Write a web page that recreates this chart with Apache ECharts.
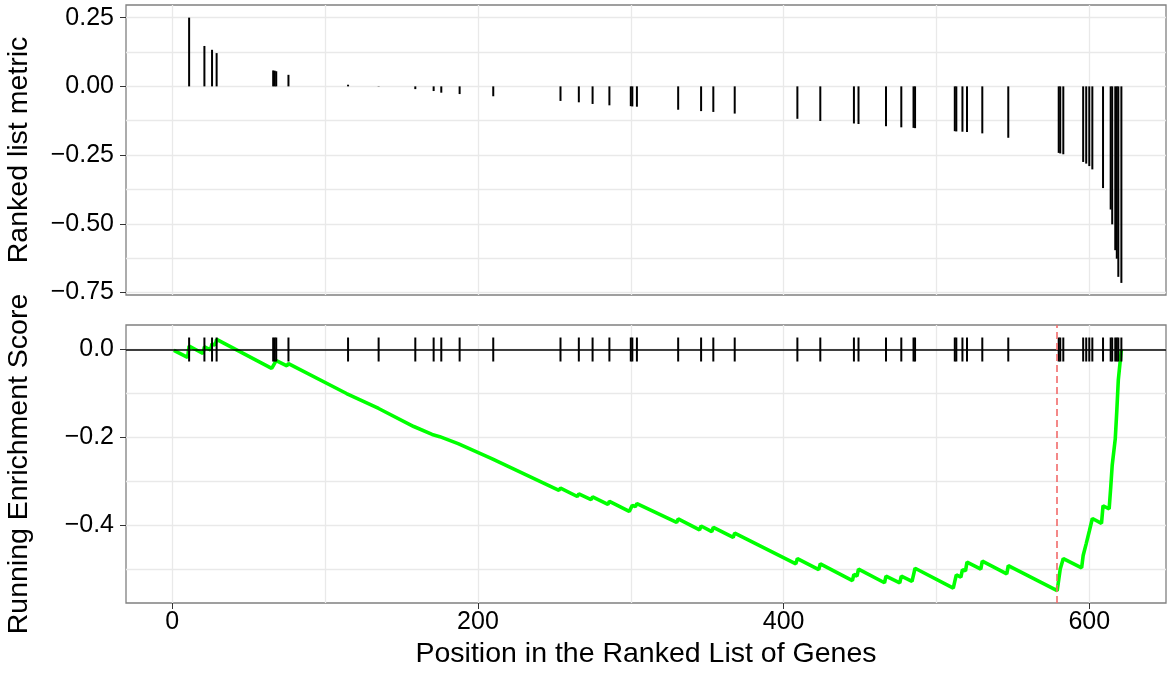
<!DOCTYPE html>
<html>
<head>
<meta charset="utf-8">
<script src="https://cdn.jsdelivr.net/npm/echarts@6/dist/echarts.min.js"></script>
<style>
  html, body { margin: 0; padding: 0; background: #fff; }
  #chart { width: 1167px; height: 674px; }
</style>
</head>
<body>
<div id="chart"></div>
<script>
// genes of the set: position in the ranked list and their metric
var hitPos = [11, 21, 26, 29, 66, 67, 68, 76, 115, 135, 159, 171, 176, 188, 210,
  254, 266, 275, 286, 300, 301, 304, 331, 346, 354, 368, 409, 424, 446, 449,
  467, 477, 485, 486, 512, 513, 517, 520, 530, 547, 580, 581, 583, 596, 598,
  600, 602, 609, 614, 615, 617, 618, 619, 621];
var hitMetric = [0.250, 0.147, 0.133, 0.121, 0.058, 0.057, 0.055, 0.042, 0.006, 0.001,
  -0.010, -0.017, -0.023, -0.028, -0.036, -0.053, -0.058, -0.064, -0.069, -0.072,
  -0.073, -0.074, -0.085, -0.090, -0.093, -0.099, -0.118, -0.126, -0.135, -0.137,
  -0.145, -0.149, -0.151, -0.152, -0.163, -0.164, -0.165, -0.166, -0.171, -0.187,
  -0.242, -0.244, -0.247, -0.275, -0.281, -0.290, -0.302, -0.370, -0.448, -0.502,
  -0.596, -0.627, -0.693, -0.715];

// running enrichment score, corners of the curve
var esPos = [1, 10, 11, 20, 21, 25, 26, 28, 29, 65, 66, 67, 68, 75, 76, 114, 115, 135,
  158, 159, 170, 171, 175, 176, 187, 188, 209, 210, 253, 254, 265, 266, 274, 275,
  285, 286, 299, 300, 301, 303, 304, 330, 331, 345, 346, 353, 354, 367, 368, 408,
  409, 423, 424, 445, 446, 448, 449, 466, 467, 476, 477, 484, 485, 486, 511, 512,
  513, 516, 517, 519, 520, 529, 530, 546, 547, 579, 580, 581, 582, 583, 595, 596,
  597, 598, 599, 600, 601, 602, 608, 609, 613, 614, 615, 616, 617, 618, 619, 620, 621];
var esScore = [-0.002, -0.018, 0.008, -0.009, 0.006, -0.001, 0.013, 0.010, 0.023, -0.043,
  -0.037, -0.031, -0.025, -0.037, -0.032, -0.100, -0.099, -0.134, -0.175, -0.174,
  -0.193, -0.191, -0.198, -0.196, -0.214, -0.211, -0.248, -0.244, -0.320, -0.315,
  -0.334, -0.328, -0.341, -0.335, -0.352, -0.345, -0.368, -0.361, -0.354, -0.357,
  -0.350, -0.393, -0.385, -0.410, -0.401, -0.414, -0.404, -0.427, -0.417, -0.487,
  -0.475, -0.500, -0.487, -0.525, -0.511, -0.515, -0.499, -0.530, -0.515, -0.530,
  -0.515, -0.527, -0.512, -0.497, -0.542, -0.527, -0.512, -0.517, -0.500, -0.503,
  -0.483, -0.499, -0.481, -0.510, -0.491, -0.548, -0.523, -0.499, -0.501, -0.475,
  -0.496, -0.468, -0.470, -0.441, -0.443, -0.413, -0.415, -0.384, -0.395, -0.355,
  -0.362, -0.315, -0.263, -0.265, -0.203, -0.140, -0.069, -0.071, 0.000];

var xTicks = [0, 200, 400, 600];
var xGrid = [0, 100, 200, 300, 400, 500, 600];
var metricTicks = [0.25, 0, -0.25, -0.5, -0.75];
var metricGrid = [0.25, 0.125, 0, -0.125, -0.25, -0.375, -0.5, -0.625, -0.75];
var esTicks = [0, -0.2, -0.4];
var esGrid = [0, -0.1, -0.2, -0.3, -0.4, -0.5];

var FONT = '"Liberation Sans", Arial, Helvetica, sans-serif';
var XMIN = -30.3, XMAX = 650.2;
var GRID_LINE = { show: true, lineStyle: { color: '#e9e9e9', width: 1.3 } };

// the red line goes where the score is lowest
var peak = 0;
esScore.forEach(function (v, i) { if (v < esScore[peak]) peak = i; });

function signed(digits) {
  return function (v) {
    return (v < 0 ? '\u2212' : '') + Math.abs(v).toFixed(digits);
  };
}

// one axis only draws the grid lines, a second one the ticks and labels
function linesAxis(gridIndex, position, min, max, values) {
  return {
    type: 'value', gridIndex: gridIndex, position: position, min: min, max: max,
    axisLine: { show: false, onZero: false },
    axisTick: { show: false, customValues: values },
    axisLabel: { show: false },
    splitLine: GRID_LINE
  };
}
function labelAxis(gridIndex, position, min, max, values, digits, margin) {
  return {
    type: 'value', gridIndex: gridIndex, position: position, min: min, max: max,
    axisLine: { show: false, onZero: false },
    axisTick: { show: true, length: 6, customValues: values, lineStyle: { color: '#333', width: 1 } },
    axisLabel: {
      customValues: values, formatter: signed(digits), margin: margin,
      fontSize: 25, color: '#000', fontFamily: FONT
    },
    splitLine: { show: false },
    nameLocation: 'middle',
    nameTextStyle: { fontSize: 28.5, color: '#000', fontFamily: FONT }
  };
}

var xLab = labelAxis(1, 'bottom', XMIN, XMAX, xTicks, 0, 7);
xLab.name = 'Position in the Ranked List of Genes';
xLab.nameGap = 37;
xLab.axisLabel.formatter = function (v) { return String(v); };

var yLab0 = labelAxis(0, 'left', -0.759, 0.296, metricTicks, 2, 12);
yLab0.name = 'Ranked list metric';
yLab0.nameGap = 92;
var yLab1 = labelAxis(1, 'left', -0.576, 0.0557, esTicks, 1, 12);
yLab1.name = 'Running Enrichment Score';
yLab1.nameGap = 92;

var gridBase = {
  left: 126, right: 1, show: true, borderColor: '#808080', borderWidth: 1.3,
  containLabel: false, outerBoundsMode: 'none'
};

var chart = echarts.init(document.getElementById('chart'));
chart.setOption({
  animation: false,
  backgroundColor: '#fff',
  textStyle: { fontFamily: FONT },
  grid: [
    Object.assign({ top: 5, height: 290 }, gridBase),
    Object.assign({ top: 325, height: 278 }, gridBase)
  ],
  xAxis: [
    linesAxis(0, 'bottom', XMIN, XMAX, xGrid),
    linesAxis(1, 'bottom', XMIN, XMAX, xGrid),
    xLab
  ],
  yAxis: [
    linesAxis(0, 'left', -0.759, 0.296, metricGrid),
    yLab0,
    linesAxis(1, 'left', -0.576, 0.0557, esGrid),
    yLab1
  ],
  series: [
    {
      name: 'metric',
      type: 'custom',
      xAxisIndex: 0, yAxisIndex: 0,
      silent: true,
      data: hitPos.map(function (p, i) { return [p, hitMetric[i]]; }),
      renderItem: function (params, api) {
        var a = api.coord([api.value(0), 0]);
        var b = api.coord([api.value(0), api.value(1)]);
        return {
          type: 'line',
          shape: { x1: a[0], y1: a[1], x2: b[0], y2: b[1] },
          style: { stroke: '#000', lineWidth: 2 }
        };
      }
    },
    {
      name: 'running ES',
      type: 'line',
      xAxisIndex: 1, yAxisIndex: 2,
      silent: true,
      symbol: 'none',
      z: 2,
      lineStyle: { color: '#00ff00', width: 3.6 },
      data: esPos.map(function (p, i) { return [p, esScore[i]]; })
    },
    {
      name: 'hits',
      type: 'custom',
      xAxisIndex: 1, yAxisIndex: 2,
      silent: true,
      z: 3,
      data: hitPos.map(function (p) { return [p, 0]; }),
      renderItem: function (params, api) {
        var c = api.coord([api.value(0), api.value(1)]);
        return {
          type: 'line',
          shape: { x1: c[0], y1: c[1] - 12, x2: c[0], y2: c[1] + 12 },
          style: { stroke: '#000', lineWidth: 2 }
        };
      },
      markLine: {
        silent: true,
        symbol: 'none',
        label: { show: false },
        data: [
          { yAxis: 0, lineStyle: { color: '#000', width: 1.5, type: 'solid' } },
          { xAxis: esPos[peak], lineStyle: { color: '#f26b6b', width: 1.6, type: [7, 4] } }
        ]
      }
    }
  ]
});
</script>
</body>
</html>
